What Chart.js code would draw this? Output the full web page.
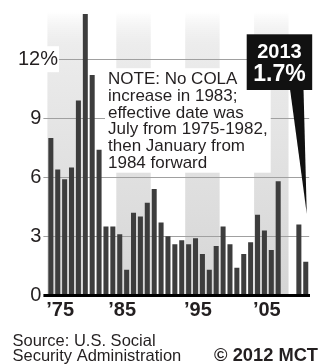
<!DOCTYPE html>
<html><head><meta charset="utf-8">
<script src="https://cdn.jsdelivr.net/npm/chart.js@4/dist/chart.umd.min.js"></script>
<style>html,body{margin:0;padding:0;background:#fff;}canvas{display:block;}</style>
</head><body>
<canvas id="c" width="325" height="364"></canvas>
<script>
// ---- data ----
const years = ['1975','1976','1977','1978','1979','1980','1981','1982',
  '1984','1985','1986','1987','1988','1989','1990','1991','1992','1993','1994','1995',
  '1996','1997','1998','1999','2000','2001','2002','2003','2004','2005',
  '2006','2007','2008','2009','2010','2011','2012','2013'];
const cola = [8.0,6.4,5.9,6.5,9.9,14.3,11.2,7.4,
  3.5,3.5,3.1,1.3,4.2,4.0,4.7,5.4,3.7,3.0,2.6,2.8,
  2.6,2.9,2.1,1.3,2.5,3.5,2.6,1.4,2.1,2.7,
  4.1,3.3,2.3,5.8,0,0,3.6,1.7];
const yTicks = [0,3,6,9,12];
const xTickLabels = ['\u201975','\u201985','\u201995','\u201905'];
const xTickYears = ['1976','1986','1997','2007'];
const bandStartYears = ['1975','1986','1996','2006'];
const bandSpan = 5;
const noteLines = ['NOTE: No COLA','increase in 1983;','effective date was','July from 1975-1982,','then January from','1984 forward'];
const calloutYear = '2013';
const calloutText = '1.7%';
const sourceLines = ['Source: U.S. Social','Security Administration'];
const creditText = '\u00a9 2012 MCT';

const FONT = "'Liberation Sans', Arial, Helvetica, sans-serif";
const INK = '#231f20';

const bandsPlugin = {
  id: 'bands',
  beforeDraw(chart) {
    const {ctx, chartArea: a, scales: {x}} = chart;
    const slot = (x.getPixelForValue(1) - x.getPixelForValue(0));
    const g = ctx.createLinearGradient(0, a.top, 0, a.bottom);
    g.addColorStop(0, 'rgba(225,225,225,0)');
    g.addColorStop(0.12, 'rgba(236,236,236,1)');
    g.addColorStop(1, 'rgba(213,213,213,1)');
    ctx.save();
    ctx.fillStyle = g;
    bandStartYears.forEach(y => {
      const i = years.indexOf(y);
      const x0 = x.getPixelForValue(i) - slot / 2;
      const x1 = x.getPixelForValue(i + bandSpan - 1) + slot / 2;
      ctx.fillRect(x0, a.top, x1 - x0, a.bottom - a.top);
    });
    ctx.restore();
  }
};

const annoPlugin = {
  id: 'anno',
  afterDraw(chart) {
    const {ctx, chartArea: a, scales: {x, y}} = chart;
    ctx.save();
    // note
    ctx.font = '17px ' + FONT;
    let w = 0;
    noteLines.forEach(l => { w = Math.max(w, ctx.measureText(l).width); });
    const nx = 108, ny = 84.2, lh = 16.7;
    ctx.fillStyle = '#fff';
    ctx.fillRect(nx - 3, ny - 16, w + 6, lh * (noteLines.length - 1) + 21);
    ctx.fillStyle = INK;
    ctx.textBaseline = 'alphabetic';
    ctx.textAlign = 'left';
    noteLines.forEach((l, k) => ctx.fillText(l, nx, ny + k * lh));
    // callout
    const last = years.length - 1;
    const tipX = x.getPixelForValue(last) + 1;
    const tipY = y.getPixelForValue(cola[last]) - 48;
    const bx0 = 246.7, bx1 = a.right + 3, by0 = 34.3, by1 = 90;
    ctx.fillStyle = '#111';
    ctx.fillRect(bx0, by0, bx1 - bx0, by1 - by0);
    ctx.beginPath();
    ctx.moveTo(290, by1 - 1);
    ctx.lineTo(303.5, by1 - 1);
    ctx.lineTo(tipX, tipY);
    ctx.closePath();
    ctx.fill();
    ctx.fillStyle = '#fff';
    ctx.textAlign = 'center';
    const cx = (bx0 + bx1) / 2;
    ctx.font = 'bold 20px ' + FONT;
    ctx.fillText(calloutYear, cx, 57.5);
    ctx.font = 'bold 23px ' + FONT;
    ctx.fillText(calloutText, cx, 80.5);
    // source + credit
    ctx.fillStyle = INK;
    ctx.textAlign = 'left';
    ctx.font = '16.5px ' + FONT;
    ctx.fillText(sourceLines[0], 12.5, 345.5);
    ctx.fillText(sourceLines[1], 12.5, 360.5);
    ctx.textAlign = 'right';
    ctx.font = 'bold 18.3px ' + FONT;
    ctx.fillText(creditText, 318, 360.5);
    ctx.restore();
  }
};

new Chart(document.getElementById('c'), {
  type: 'bar',
  data: {
    labels: years,
    datasets: [{
      data: cola,
      backgroundColor: '#3d3d3d',
      borderWidth: 0,
      barPercentage: 0.73,
      categoryPercentage: 1
    }]
  },
  options: {
    responsive: false,
    devicePixelRatio: 1,
    animation: false,
    events: [],
    layout: { padding: { top: 12, right: 15.8, left: 0, bottom: 0 } },
    plugins: { legend: { display: false }, tooltip: { enabled: false }, title: { display: false } },
    scales: {
      x: {
        type: 'category',
        offset: true,
        afterFit(s) { s.height = 364 - 295.3; },
        grid: { display: false, drawTicks: false },
        border: { display: true, color: '#000', width: 3, z: 1 },
        ticks: {
          autoSkip: false, maxRotation: 0, minRotation: 0,
          labelOffset: 2.4, padding: 3,
          color: INK,
          font: { family: FONT, size: 20, weight: 'bold' },
          callback(v, i) { const k = xTickYears.indexOf(years[i]); return k >= 0 ? xTickLabels[k] : ''; }
        }
      },
      y: {
        min: 0, max: 14.4,
        afterFit(s) { s.width = 47.4; },
        afterBuildTicks(s) { s.ticks = yTicks.map(v => ({ value: v })); },
        border: { display: false },
        grid: {
          color: '#a0a0a0', lineWidth: 1, drawTicks: true, tickLength: 4,
          tickColor: c => (c.tick && c.tick.value === 0) ? '#000' : '#a0a0a0',
          tickWidth: c => (c.tick && c.tick.value === 0) ? 3 : 1
        },
        ticks: {
          mirror: true,
          crossAlign: 'far',
          padding: -29.4,
          color: INK,
          font: { family: FONT, size: 20 },
          showLabelBackdrop: c => !!(c.tick && c.tick.value === 12),
          backdropColor: '#fff',
          backdropPadding: 1,
          callback(v) { return v === 12 ? v + '%' : v + '   '; }
        }
      }
    }
  },
  plugins: [bandsPlugin, annoPlugin]
});
</script>
</body></html>
